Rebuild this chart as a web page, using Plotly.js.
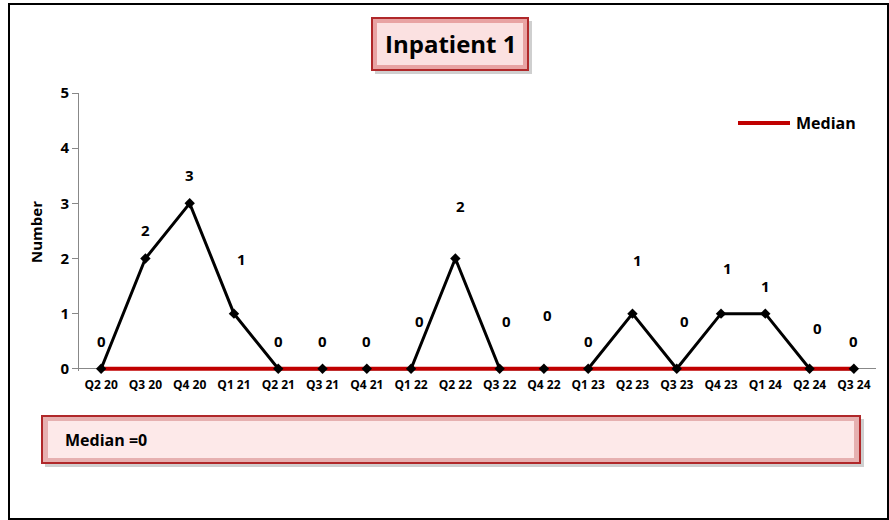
<!DOCTYPE html>
<html>
<head>
<meta charset="utf-8">
<script src="https://cdn.plot.ly/plotly-3.0.1.min.js"></script>
<style>
html,body{margin:0;padding:0;background:#fff;}
#chart{width:889px;height:520px;}
</style>
</head>
<body>
<div id="chart"></div>
<script>
// ---- data ----
var quarters = ["Q2 20","Q3 20","Q4 20","Q1 21","Q2 21","Q3 21","Q4 21","Q1 22","Q2 22","Q3 22","Q4 22","Q1 23","Q2 23","Q3 23","Q4 23","Q1 24","Q2 24","Q3 24"];
var counts   = [0,2,3,1,0,0,0,0,2,0,0,0,1,0,1,1,0,0];
var yTicks   = [0,1,2,3,4,5];
var medianValue = 0;
var medianSeries = quarters.map(function(){ return medianValue; });
var titleText = "Inpatient 1";
var medianLabel = "Median =" + medianValue;
var legendLabel = "Median";

// label pixel offsets (style only)
var labelDx = [0,0,0,8,0,0,0,8,5,7,4,0,5,8,6,0,8,0];
var labelDy = [28,28,28,55,28,28,28,48,52,48,54,28,54,48,46,28,41,28];

var FONT = "'Open Sans', Lato, sans-serif";

// geometry helpers (plot area: x 79..876, y 93..371)
var L = 79, R = 876, T = 93, B = 371;
var YMIN = -0.04, YMAX = 5;
function px(x){ return (x - L) / (R - L); }
function py(y){ return (B - y) / (B - T); }
function box(x0,y0,x1,y1,fill,line,lw){
  return {type:"rect", xref:"paper", yref:"paper", x0:px(x0), x1:px(x1), y0:py(y1), y1:py(y0),
          fillcolor:fill, line:{color:line, width:lw||0}, layer:"below"};
}

var shapes = [
  // outer frame
  {type:"rect", xref:"paper", yref:"paper", x0:px(9), x1:px(888), y0:py(519), y1:py(4), line:{color:"#000", width:2}, fillcolor:"rgba(0,0,0,0)", layer:"below"},
  // title box
  box(375,21,532,74,"#cfcfcf","#cfcfcf",0),
  box(372,18,528,70,"#e8a3a3","#b0282a",2),
  box(377,23,523,65,"#fbe1e1","#f6cccc",0),
  // median box
  box(45,419,864,467,"#cfcfcf","#cfcfcf",0),
  box(42,416,860,463,"#e6b0b0","#b0282a",2),
  box(48,421,854,458,"#fde9e9","#fde9e9",0),
  // legend line
  {type:"line", xref:"paper", yref:"paper", x0:px(738), x1:px(790), y0:py(123), y1:py(123), line:{color:"#c00000", width:4}}
];

var annotations = [
  {xref:"paper", yref:"paper", x:px(450), y:py(44), text:"<b>"+titleText+"</b>", showarrow:false,
   font:{family:FONT, size:24, color:"#000"}, xanchor:"center", yanchor:"middle"},
  {xref:"paper", yref:"paper", x:px(63), y:py(440), text:"<b>"+medianLabel+"</b>", showarrow:false,
   font:{family:FONT, size:16, color:"#000"}, xanchor:"left", yanchor:"middle"},
  {xref:"paper", yref:"paper", x:px(794), y:py(123), text:"<b>"+legendLabel+"</b>", showarrow:false,
   font:{family:FONT, size:16, color:"#000"}, xanchor:"left", yanchor:"middle"}
];
for (var i = 0; i < quarters.length; i++) {
  annotations.push({x:quarters[i], y:counts[i], xref:"x", yref:"y", text:"<b>"+counts[i]+"</b>",
    showarrow:false, xshift:labelDx[i], yshift:labelDy[i], font:{family:FONT, size:15, color:"#000"},
    xanchor:"center", yanchor:"middle"});
}

var traces = [
  {x:quarters, y:counts, type:"scatter", mode:"lines", line:{color:"#000", width:3}, showlegend:false, hoverinfo:"skip"},
  {x:quarters, y:medianSeries, type:"scatter", mode:"lines", name:legendLabel, line:{color:"#c00000", width:4}, showlegend:false},
  {x:quarters, y:counts, type:"scatter", mode:"markers", marker:{symbol:"diamond", size:8, color:"#000"}, showlegend:false, cliponaxis:false}
];

var layout = {
  width:889, height:520,
  margin:{l:L, r:889-R, t:T, b:520-B},
  paper_bgcolor:"#fff", plot_bgcolor:"#fff",
  font:{family:FONT, color:"#000"},
  showlegend:false,
  xaxis:{type:"category", range:[-0.5, quarters.length-0.5], showgrid:false, zeroline:false,
         showline:false, ticks:"", fixedrange:true,
         tickvals:quarters, ticktext:quarters.map(function(q){ return "<b>"+q+"</b>"; }),
         tickfont:{family:FONT, size:12, color:"#000"}, tickangle:0, ticklabelstandoff:5},
  yaxis:{range:[YMIN,YMAX], tickvals:yTicks, ticktext:yTicks.map(function(v){ return "<b>"+v+"</b>"; }),
         showgrid:false, zeroline:true, zerolinecolor:"#888", zerolinewidth:1,
         showline:true, linecolor:"#888", linewidth:1,
         ticks:"outside", ticklen:6, tickcolor:"#888", tickfont:{family:FONT, size:15, color:"#000"},
         title:{text:"<b>Number</b>", font:{family:FONT, size:15, color:"#000"}, standoff:14}},
  shapes:shapes,
  annotations:annotations
};

Plotly.newPlot("chart", traces, layout, {displayModeBar:false, staticPlot:true});
</script>
</body>
</html>
